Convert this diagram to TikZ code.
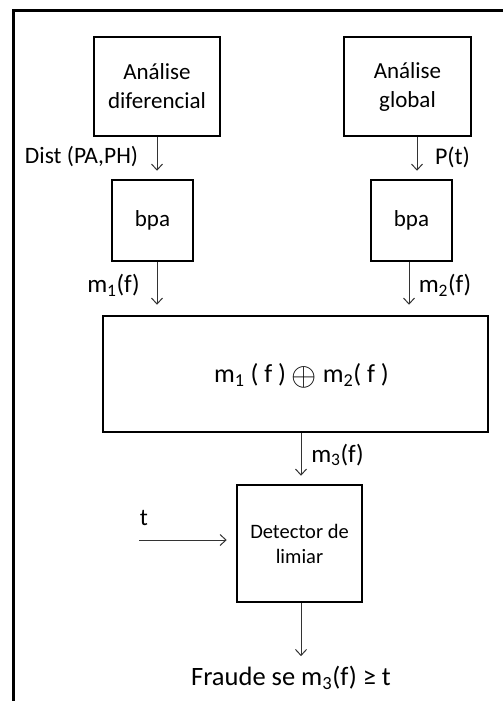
\documentclass[tikz,border=0pt]{standalone}
\usepackage{fontspec}
\setmainfont{Carlito}
\usetikzlibrary{arrows.meta}
\begin{document}
\begin{tikzpicture}[x=1pt,y=-1pt,
  box/.style={draw, line width=2.5pt, inner sep=0pt, align=center,
    font=\fontsize{23}{29}\selectfont},
  flow/.style={draw=black!80, line width=1pt,
    -{Straight Barb[length=6pt,width=11pt]}},
  lbl/.style={font=\fontsize{24}{28}\selectfont, inner sep=0pt}]
\useasboundingbox (0,0) rectangle (503,701);
% frame
\draw[line width=3pt] (13,701) -- (13,11) -- (503,11);

% blocks
\node[box, minimum width=126pt, minimum height=99pt] (ad) at (157,86.5) {Análise\\diferencial};
\node[box, minimum width=127pt, minimum height=99pt] (ag) at (407.5,86.5) {Análise\\global};
\node[box, minimum width=81pt, minimum height=81pt] (bpaL) at (152.5,220.5) {bpa};
\node[box, minimum width=81pt, minimum height=81pt] (bpaR) at (411.5,220.5) {bpa};
\node[box, minimum width=385pt, minimum height=116pt] (comb) at (295.5,374) {};
\node[lbl, font=\fontsize{26}{30}\selectfont] (combtxt) at (301.5,376)
  {m\textsubscript{1} ( f ) \raisebox{-0.25ex}{\scalebox{1.3}{$\oplus$}} m\textsubscript{2}( f )};
\node[box, minimum width=125pt, minimum height=117pt, font=\fontsize{20.5}{25}\selectfont] (det) at (299.5,543.5)
  {Detector de\\limiar};

% labels
\node[lbl, font=\fontsize{23.5}{28}\selectfont] (ldist) at (81.5,157) {Dist (PA,PH)};
\node[lbl] (lpt) at (452.5,157) {P(t)};
\node[lbl, font=\fontsize{25}{28}\selectfont] (lm1) at (113.5,285) {m\textsubscript{1}(f)};
\node[lbl, font=\fontsize{25}{28}\selectfont] (lm2) at (445,285) {m\textsubscript{2}(f)};
\node[lbl, font=\fontsize{25}{28}\selectfont] (lm3) at (337.5,455) {m\textsubscript{3}(f)};
\node[lbl] (lt) at (144,518) {t};
\node[lbl, font=\fontsize{26.5}{30}\selectfont] (out) at (291,678) {Fraude se m\textsubscript{3}(f) ≥ t};
\coordinate (tin) at (139,540);

% connectors
\draw[flow, shorten >=8pt] (ad.south) -- (ad.south |- bpaL.north);
\draw[flow, shorten >=8pt] ([xshift=9.5pt]ag.south) -- ([xshift=9.5pt]ag.south |- bpaR.north);
\draw[flow, shorten >=10pt] ([xshift=4.5pt]bpaL.south) -- ([xshift=4.5pt]bpaL.south |- comb.north);
\draw[flow, shorten >=10pt] ([xshift=-2.5pt]bpaR.south) -- ([xshift=-2.5pt]bpaR.south |- comb.north);
\draw[flow, shorten >=8pt] ([xshift=1.5pt]det.north |- comb.south) -- ([xshift=1.5pt]det.north);
\draw[flow, shorten >=9pt] (tin) -- (tin -| det.west);
\draw[flow, shorten >=10pt] ([xshift=1.5pt]det.south) -- ([xshift=1.5pt]det.south |- out.north);
\end{tikzpicture}
\end{document}
